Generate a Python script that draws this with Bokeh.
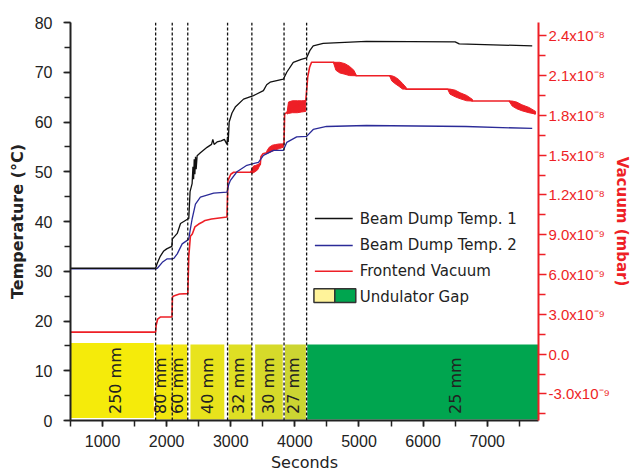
import math
from bokeh.plotting import figure
from bokeh.models import (Range1d, LinearAxis, SingleIntervalTicker, FixedTicker,
                          CustomJSTickFormatter, Span, Label, BoxAnnotation, Arrow,
                          ColumnDataSource)
from bokeh.core.properties import value
from bokeh.embed import file_html
from bokeh.resources import INLINE

# ---------------- data ----------------
# Beam Dump Temp. 1 (black), seconds / deg C
t1_time = [500, 1828, 1850, 1900, 1950, 2000, 2080, 2090, 2165, 2216, 2330, 2345, 2365,
           2397, 2410, 2420, 2430, 2440, 2450, 2460, 2475, 2526, 2630, 2700, 2720, 2740,
           2786, 2850, 2900, 2941, 2950, 2960, 2975, 3019, 3070, 3199, 3354, 3509, 3560,
           3613, 3820, 3873, 3975, 4100, 4183, 4235, 4286, 4441, 5115, 6500, 6564, 7702]
t1_temp = [30.6, 30.6, 31.5, 33.0, 34.0, 34.5, 35.0, 36.5, 37.6, 39.6, 40.5, 40.6, 46.0,
           47.6, 51.0, 48.5, 52.5, 49.5, 53.0, 50.5, 53.2, 53.8, 54.9, 55.5, 56.5, 55.5,
           56.0, 56.2, 56.5, 55.5, 57.0, 56.0, 60.0, 61.8, 63.0, 64.6, 65.3, 66.3, 67.5,
           68.0, 68.6, 70.0, 72.0, 72.6, 72.9, 74.4, 75.3, 75.8, 76.2, 76.1, 75.7, 75.3]

# Beam Dump Temp. 2 (blue)
t2_time = [500, 1840, 1854, 1932, 2009, 2080, 2112, 2165, 2242, 2320, 2345, 2370, 2397,
           2449, 2526, 2733, 2941, 2970, 2992, 3096, 3251, 3432, 3509, 3665, 3820, 3873,
           4028, 4183, 4286, 4494, 5115, 6667, 7702]
t2_temp = [30.5, 30.5, 30.6, 31.8, 32.5, 32.5, 32.6, 33.5, 35.5, 36.2, 36.5, 38.5, 40.5,
           43.5, 44.9, 45.7, 45.9, 47.5, 48.2, 50.0, 51.3, 51.9, 53.3, 54.3, 54.3, 55.9,
           57.0, 57.1, 58.5, 59.1, 59.3, 59.1, 58.7]

# Frontend Vacuum (red), seconds / mbar
vac_time = [500, 1828, 1835, 1860, 1900, 2083, 2090, 2120, 2200, 2330, 2345, 2370, 2400,
            2440, 2500, 2560, 2600, 2700, 2941, 2955, 3000, 3045, 3310, 3460, 3470, 3500,
            3560, 3820, 3830, 3840, 3880, 4170, 4200, 4230, 4260, 4600, 4960, 5477, 5736,
            6382, 6771, 7340, 7754]
vac_mbar = [1.66e-9, 1.66e-9, 2.16e-9, 2.65e-9, 2.80e-9, 2.80e-9, 4.30e-9, 4.41e-9,
            4.53e-9, 4.56e-9, 7.38e-9, 8.88e-9, 9.06e-9, 9.59e-9, 9.81e-9, 9.96e-9,
            1.008e-8, 1.019e-8, 1.034e-8, 1.308e-8, 1.356e-8, 1.371e-8, 1.371e-8,
            1.431e-8, 1.488e-8, 1.51e-8, 1.518e-8, 1.581e-8, 1.581e-8, 1.81e-8, 1.825e-8,
            1.911e-8, 2.088e-8, 2.163e-8, 2.2e-8, 2.2e-8, 2.099e-8, 2.099e-8, 1.998e-8,
            1.998e-8, 1.908e-8, 1.908e-8, 1.81e-8]

# Fluctuation bands of the vacuum reading (time, lower, upper)
band_time = [[3310, 3330, 3360, 3380, 3420, 3460],
             [3560, 3600, 3650, 3700, 3760, 3820],
             [3880, 3900, 3960, 4040, 4100, 4170],
             [4600, 4640, 4700, 4780, 4850, 4920, 4960],
             [5477, 5510, 5560, 5620, 5680, 5736],
             [6382, 6420, 6500, 6580, 6680, 6771],
             [7340, 7390, 7460, 7540, 7650, 7754]]
band_low = [[1.371e-8, 1.36e-8, 1.37e-8, 1.375e-8, 1.39e-8, 1.431e-8],
            [1.51e-8, 1.52e-8, 1.53e-8, 1.54e-8, 1.55e-8, 1.56e-8],
            [1.81e-8, 1.815e-8, 1.82e-8, 1.82e-8, 1.825e-8, 1.83e-8],
            [2.2e-8, 2.14e-8, 2.12e-8, 2.11e-8, 2.10e-8, 2.099e-8, 2.099e-8],
            [2.099e-8, 2.06e-8, 2.04e-8, 2.02e-8, 1.998e-8, 1.998e-8],
            [1.998e-8, 1.96e-8, 1.94e-8, 1.925e-8, 1.91e-8, 1.908e-8],
            [1.908e-8, 1.87e-8, 1.85e-8, 1.835e-8, 1.82e-8, 1.81e-8]]
band_high = [[1.371e-8, 1.40e-8, 1.42e-8, 1.42e-8, 1.43e-8, 1.44e-8],
             [1.53e-8, 1.56e-8, 1.575e-8, 1.58e-8, 1.585e-8, 1.585e-8],
             [1.825e-8, 1.90e-8, 1.91e-8, 1.91e-8, 1.91e-8, 1.911e-8],
             [2.2e-8, 2.2e-8, 2.2e-8, 2.19e-8, 2.17e-8, 2.14e-8, 2.10e-8],
             [2.099e-8, 2.099e-8, 2.09e-8, 2.07e-8, 2.04e-8, 2.01e-8],
             [1.998e-8, 1.998e-8, 1.99e-8, 1.97e-8, 1.95e-8, 1.92e-8],
             [1.908e-8, 1.908e-8, 1.90e-8, 1.88e-8, 1.86e-8, 1.83e-8]]

# Undulator gap periods
gap_label = ["250 mm", "80 mm", "60 mm", "40 mm", "32 mm", "30 mm", "27 mm", "25 mm"]
gap_start = [500, 1830, 2087, 2371, 2966, 3380, 3846, 4193]
gap_end = [1800, 2080, 2320, 2899, 3329, 3811, 4172, 7800]
gap_bottom = [0.5, 0.2, 0.2, 0.2, 0.2, 0.2, 0.2, 0.2]
gap_top = [15.6, 15.3, 15.3, 15.3, 15.3, 15.3, 15.3, 15.3]
gap_label_time = [1200, 1906, 2175, 2630, 3121, 3587, 3975, 6512]
gap_color = ["#f5eb0a", "#f3e70e", "#f1e612", "#e8e31c", "#dfdf24", "#d6da2a",
             "#ccd532", "#00a54f"]
gap_change = [1828, 2087, 2329, 2950, 3329, 3831, 4183]

# Right axis ticks
vac_ticks = [-3e-9, 0.0, 3e-9, 6e-9, 9e-9, 1.2e-8, 1.5e-8, 1.8e-8, 2.1e-8, 2.4e-8]
vac_minor = [-4.5e-9, -1.5e-9, 1.5e-9, 4.5e-9, 7.5e-9, 1.05e-8, 1.35e-8, 1.65e-8,
             1.95e-8, 2.25e-8]
vac_tick_labels = ["-3.0x10\u207b\u2079", "0.0", "3.0x10\u207b\u2079", "6.0x10\u207b\u2079",
                   "9.0x10\u207b\u2079", "1.2x10\u207b\u2078", "1.5x10\u207b\u2078",
                   "1.8x10\u207b\u2078", "2.1x10\u207b\u2078", "2.4x10\u207b\u2078"]

legend_labels = ["Beam Dump Temp. 1", "Beam Dump Temp. 2", "Frontend Vacuum", "Undulator Gap"]

# ---------------- styling ----------------
BLACK = "#111111"
BLUE = "#2b2b98"
RED = "#ee1f26"
TXT = "#222222"

p = figure(width=633, height=474, x_range=Range1d(500, 7800), y_range=Range1d(0, 80),
           output_backend="svg", toolbar_location=None,
           min_border_left=70, min_border_right=93, min_border_top=22, min_border_bottom=54,
           outline_line_color=None, background_fill_color="white",
           border_fill_color="white")
p.extra_y_ranges = {"vac": Range1d(-5e-9, 2.5e-8)}
p.grid.visible = False

# left axis
ya = p.yaxis[0]
ya.ticker = SingleIntervalTicker(interval=10, num_minor_ticks=2)
ya.axis_label = "Temperature (\u00b0C)"
ya.axis_label_text_font = "DejaVu Sans"
ya.axis_label_text_font_style = "bold"
ya.axis_label_text_font_size = "16px"
ya.axis_label_text_color = TXT
ya.axis_label_standoff = 5
ya.major_label_text_font = "Liberation Sans"
ya.major_label_text_font_size = "16px"
ya.major_label_text_color = TXT
ya.major_label_standoff = 11
ya.axis_line_width = 2
ya.axis_line_color = TXT
ya.major_tick_line_color = TXT
ya.minor_tick_line_color = TXT
ya.major_tick_line_width = 1.5
ya.minor_tick_line_width = 1.5
ya.major_tick_out = 7
ya.major_tick_in = 0
ya.minor_tick_out = 6
ya.minor_tick_in = 0

# bottom axis
xa = p.xaxis[0]
xa.ticker = SingleIntervalTicker(interval=1000, num_minor_ticks=2)
xa.axis_label = "Seconds"
xa.axis_label_text_font = "DejaVu Sans"
xa.axis_label_text_font_style = "normal"
xa.axis_label_text_font_size = "16px"
xa.axis_label_text_color = TXT
xa.axis_label_standoff = 3
xa.major_label_text_font = "Liberation Sans"
xa.major_label_text_font_size = "16px"
xa.major_label_text_color = TXT
xa.major_label_standoff = 8
xa.axis_line_width = 2
xa.axis_line_color = TXT
xa.major_tick_line_color = TXT
xa.minor_tick_line_color = TXT
xa.major_tick_line_width = 1.5
xa.minor_tick_line_width = 1.5
xa.major_tick_out = 6
xa.major_tick_in = 0
xa.minor_tick_out = 6
xa.minor_tick_in = 0

# right axis
fmt = CustomJSTickFormatter(args=dict(vticks=vac_ticks, vlabels=vac_tick_labels), code="""
let best = 0, bd = Infinity;
for (let i = 0; i < vticks.length; i++) {
  const d = Math.abs(vticks[i] - tick);
  if (d < bd) { bd = d; best = i; }
}
return vlabels[best];
""")
ra = LinearAxis(y_range_name="vac",
                ticker=FixedTicker(ticks=vac_ticks, minor_ticks=vac_minor),
                formatter=fmt)
ra.axis_label = "Vacuum (mbar)"
ra.axis_label_text_font = "DejaVu Sans"
ra.axis_label_text_font_style = "bold"
ra.axis_label_text_font_size = "15px"
ra.axis_label_text_color = RED
ra.axis_label_standoff = 0
ra.major_label_text_font = "Liberation Sans"
ra.major_label_text_font_size = "15px"
ra.major_label_text_color = RED
ra.major_label_standoff = 2
ra.axis_line_width = 2
ra.axis_line_color = RED
ra.major_tick_line_color = RED
ra.minor_tick_line_color = RED
ra.major_tick_line_width = 1.5
ra.minor_tick_line_width = 1.5
ra.major_tick_out = 8
ra.major_tick_in = 0
ra.minor_tick_out = 7
ra.minor_tick_in = 0
p.add_layout(ra, "right")

# undulator gap bars
gap_src = ColumnDataSource(dict(left=gap_start, right=gap_end, bottom=gap_bottom,
                                top=gap_top, color=gap_color))
p.quad(left="left", right="right", bottom="bottom", top="top", fill_color="color",
       line_color=None, source=gap_src)
lab_src = ColumnDataSource(dict(x=gap_label_time, y=[1.3] * len(gap_label), text=gap_label))
p.text(x="x", y="y", text="text", source=lab_src, angle=math.pi / 2,
       text_align="left", text_baseline="middle", text_font=value("DejaVu Sans"),
       text_font_size="16px", text_color=TXT)

# vacuum fluctuation bands
xs = [bt + bt[::-1] for bt in band_time]
ys = [bh + bl[::-1] for bh, bl in zip(band_high, band_low)]
p.patches(xs=xs, ys=ys, y_range_name="vac", fill_color=RED, line_color=RED,
          line_width=1)

# series
p.line(vac_time, vac_mbar, y_range_name="vac", line_color=RED, line_width=1.6)
p.line(t2_time, t2_temp, line_color=BLUE, line_width=1.3)
p.line(t1_time, t1_temp, line_color=BLACK, line_width=1.3)

# gap change markers
for gc in gap_change:
    p.add_layout(Span(location=gc, dimension="height", line_color="#111111",
                      line_dash="3 2", line_width=1.3))

# legend (drawn manually)
leg_colors = [BLACK, BLUE, RED]
leg_rows = [40.6, 35.2, 30.0, 24.9]
for lbl, col, ry in zip(legend_labels[:3], leg_colors, leg_rows[:3]):
    p.add_layout(Arrow(end=None, x_start=4312, x_end=4902, y_start=ry, y_end=ry,
                       line_color=col, line_width=1.5))
for lbl, ry in zip(legend_labels, leg_rows):
    p.add_layout(Label(x=5011, y=ry, text=lbl, text_baseline="middle",
                       text_align="left", text_font="DejaVu Sans",
                       text_font_size="15px", text_color=TXT))
p.add_layout(BoxAnnotation(left=4297, right=4623, bottom=23.7, top=26.5,
                           fill_color="#fff39a", fill_alpha=1, line_color="#333333",
                           line_width=1.5, line_alpha=1))
p.add_layout(BoxAnnotation(left=4623, right=4950, bottom=23.7, top=26.5,
                           fill_color="#00a54f", fill_alpha=1, line_color="#333333",
                           line_width=1.5, line_alpha=1))

open("out.html", "w").write(file_html(p, INLINE))
